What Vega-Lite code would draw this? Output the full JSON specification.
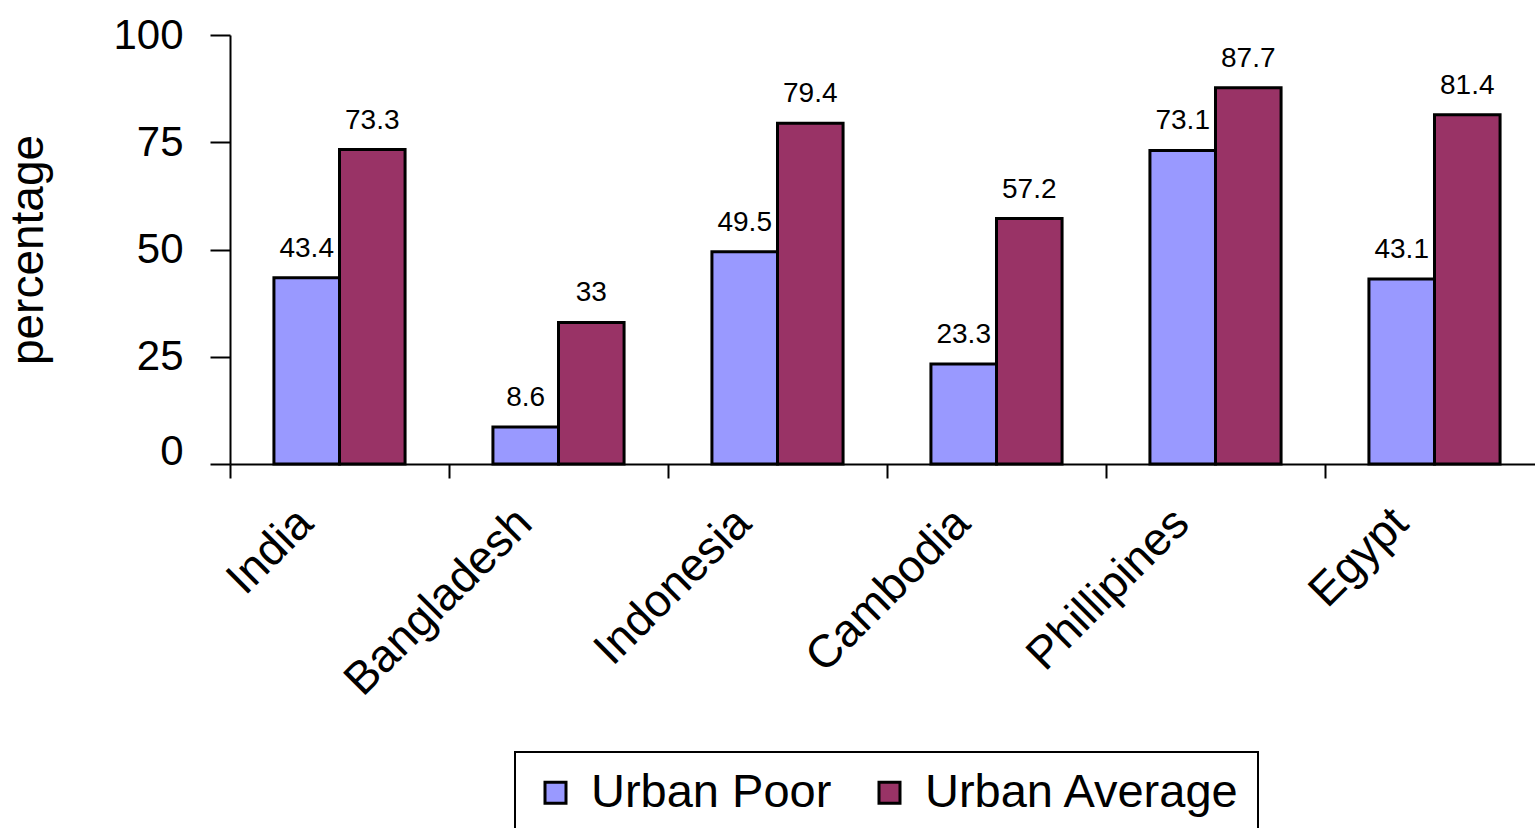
{
  "$schema": "https://vega.github.io/schema/vega-lite/v6.json",
  "autosize": {"type": "none"},
  "width": 1314,
  "height": 429,
  "padding": {"left": 230, "top": 35, "right": 0, "bottom": 364},
  "background": "white",
  "config": {"font": "Liberation Sans", "view": {"stroke": null}},
  "data": {
    "values": [
      {"country": "India", "series": "Urban Poor", "value": 43.4},
      {"country": "India", "series": "Urban Average", "value": 73.3},
      {"country": "Bangladesh", "series": "Urban Poor", "value": 8.6},
      {"country": "Bangladesh", "series": "Urban Average", "value": 33},
      {"country": "Indonesia", "series": "Urban Poor", "value": 49.5},
      {"country": "Indonesia", "series": "Urban Average", "value": 79.4},
      {"country": "Cambodia", "series": "Urban Poor", "value": 23.3},
      {"country": "Cambodia", "series": "Urban Average", "value": 57.2},
      {"country": "Phillipines", "series": "Urban Poor", "value": 73.1},
      {"country": "Phillipines", "series": "Urban Average", "value": 87.7},
      {"country": "Egypt", "series": "Urban Poor", "value": 43.1},
      {"country": "Egypt", "series": "Urban Average", "value": 81.4}
    ]
  },
  "encoding": {
    "x": {
      "field": "country",
      "type": "nominal",
      "sort": ["India", "Bangladesh", "Indonesia", "Cambodia", "Phillipines", "Egypt"],
      "scale": {"paddingInner": 0, "paddingOuter": 0},
      "axis": {
        "title": null,
        "tickBand": "extent",
        "tickSize": 14,
        "tickWidth": 2,
        "tickColor": "black",
        "domainColor": "black",
        "domainWidth": 2,
        "labelAngle": -45,
        "labelFontSize": 46,
        "labelColor": "black",
        "labelPadding": 22,
        "labelOffset": -50,
        "labelLimit": 0
      }
    },
    "xOffset": {
      "field": "series",
      "type": "nominal",
      "sort": ["Urban Poor", "Urban Average"],
      "scale": {"paddingInner": 0, "paddingOuter": 0.67}
    },
    "y": {
      "field": "value",
      "type": "quantitative",
      "scale": {"domain": [0, 100]},
      "axis": {
        "values": [0, 25, 50, 75, 100],
        "grid": false,
        "tickSize": 20,
        "tickWidth": 2,
        "tickColor": "black",
        "domainColor": "black",
        "domainWidth": 2,
        "labelFontSize": 42,
        "labelColor": "black",
        "labelPadding": 27,
        "labelBaseline": {"condition": {"test": "datum.value == 0", "value": "alphabetic"}, "value": "middle"},
        "title": "percentage",
        "titleFontSize": 46,
        "titleFontWeight": "normal",
        "titleColor": "black",
        "titlePadding": 60
      }
    }
  },
  "layer": [
    {
      "mark": {"type": "text", "dy": -21, "baseline": "alphabetic", "fontSize": 28, "color": "black"},
      "encoding": {"text": {"field": "value", "type": "quantitative"}}
    },
    {
      "mark": {"type": "bar", "stroke": "black", "strokeWidth": 3},
      "encoding": {
        "color": {
          "field": "series",
          "type": "nominal",
          "sort": ["Urban Poor", "Urban Average"],
          "scale": {"domain": ["Urban Poor", "Urban Average"], "range": ["#9999FF", "#993366"]},
          "legend": {
            "orient": "none",
            "legendX": 285,
            "legendY": 717,
            "direction": "horizontal",
            "title": null,
            "strokeColor": "black",
            "fillColor": "white",
            "padding": 17,
            "labelFontSize": 47,
            "labelColor": "black",
            "labelOffset": 12,
            "labelLimit": 0,
            "columnPadding": 34,
            "symbolType": "square",
            "symbolSize": 441,
            "symbolStrokeColor": "black",
            "symbolStrokeWidth": 3,
            "encode": {"legend": {"update": {"strokeWidth": {"value": 2}}}}
          }
        }
      }
    }
  ]
}
